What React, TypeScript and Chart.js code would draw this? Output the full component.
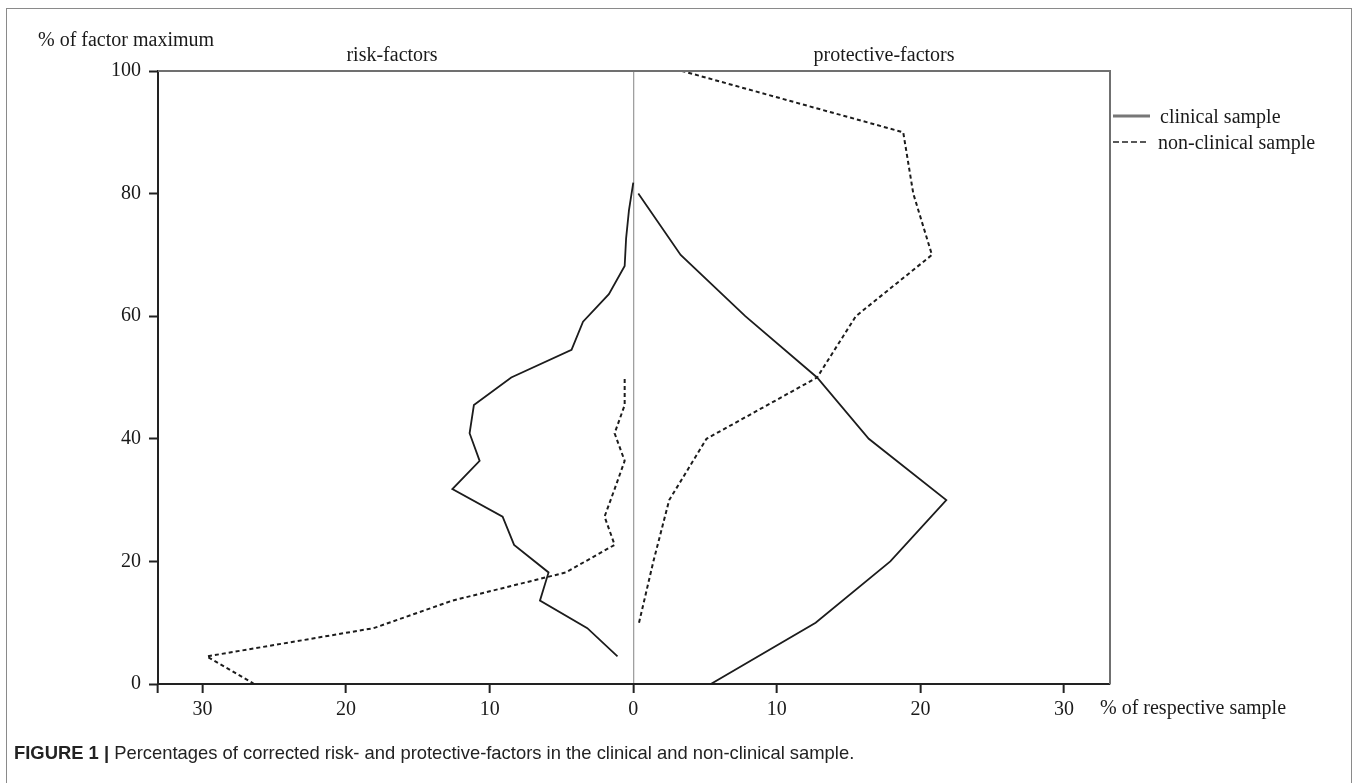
import React, { useEffect, useRef } from "react";
import { Chart, registerables } from "chart.js";

Chart.register(...registerables);

// y-levels (% of factor maximum) and x-values (% of respective sample)
const riskClinicalLevels = [4.5, 9.1, 13.6, 18.2, 22.7, 27.3, 31.8, 36.4, 40.9, 45.5, 50, 54.5, 59.1, 63.6, 68.2, 72.7, 77.3, 81.8];
const riskClinicalValues = [1.1, 3.2, 6.5, 5.9, 8.3, 9.1, 12.6, 10.7, 11.4, 11.1, 8.5, 4.3, 3.5, 1.7, 0.6, 0.5, 0.3, 0.0];

const riskNonClinicalLevels = [0, 4.5, 9.1, 13.6, 18.2, 22.7, 27.3, 31.8, 36.4, 40.9, 45.5, 50];
const riskNonClinicalValues = [26.4, 29.7, 18.1, 12.6, 4.7, 1.3, 2.0, 1.3, 0.6, 1.3, 0.6, 0.6];

const protClinicalLevels = [0, 10, 20, 30, 40, 50, 60, 70, 80];
const protClinicalValues = [5.4, 12.7, 17.9, 21.8, 16.4, 12.8, 7.8, 3.3, 0.35];

const protNonClinicalLevels = [10, 20, 30, 40, 50, 60, 70, 80, 90, 100];
const protNonClinicalValues = [0.4, 1.4, 2.5, 5.1, 12.8, 15.5, 20.8, 19.5, 18.8, 3.4];

const xTickValues = [-33.1, -30, -20, -10, 0, 10, 20, 30];
const xTickLabels = ["", "30", "20", "10", "0", "10", "20", "30"];
const yTickValues = [0, 20, 40, 60, 80, 100];

const SERIF = '"Liberation Serif", "Times New Roman", serif';
const SANS = '"Liberation Sans", Arial, sans-serif';

const frameBorder = {
  id: "frameBorder",
  afterDatasetsDraw(chart: any) {
    const { ctx, chartArea } = chart;
    ctx.save();
    ctx.strokeStyle = "#707070";
    ctx.lineWidth = 2;
    ctx.beginPath();
    ctx.moveTo(chartArea.left, chartArea.top);
    ctx.lineTo(chartArea.right, chartArea.top);
    ctx.lineTo(chartArea.right, chartArea.bottom);
    ctx.stroke();
    ctx.restore();
  },
};

export default function App() {
  const ref = useRef<HTMLCanvasElement>(null);
  useEffect(() => {
    document.body.style.margin = "0";
    const toPts = (levels: number[], vals: number[], sign: number) =>
      levels.map((y, i) => ({ x: sign * vals[i], y }));
    const solid = { borderColor: "#1c1c1c", borderWidth: 1.8, pointRadius: 0, showLine: true, fill: false, tension: 0 };
    const dotted = { ...solid, borderDash: [4, 3], borderWidth: 2 };
    const chart = new Chart(ref.current as HTMLCanvasElement, {
      type: "scatter",
      data: {
        datasets: [
          { label: "risk clinical", data: toPts(riskClinicalLevels, riskClinicalValues, -1), ...solid },
          { label: "risk non-clinical", data: toPts(riskNonClinicalLevels, riskNonClinicalValues, -1), ...dotted },
          { label: "protective clinical", data: toPts(protClinicalLevels, protClinicalValues, 1), ...solid },
          { label: "protective non-clinical", data: toPts(protNonClinicalLevels, protNonClinicalValues, 1), ...dotted },
        ] as any,
      },
      options: {
        responsive: false,
        animation: false,
        layout: { padding: { left: 0, top: 71, right: 247, bottom: 0 } },
        plugins: { legend: { display: false }, tooltip: { enabled: false } },
        scales: {
          x: {
            type: "linear",
            min: -33.1,
            max: 33.2,
            afterBuildTicks: (scale: any) => {
              scale.ticks = xTickValues.map((v) => ({ value: v }));
            },
            afterFit: (scale: any) => {
              scale.height = 99;
            },
            ticks: {
              autoSkip: false,
              maxRotation: 0,
              color: "#1a1a1a",
              padding: 5,
              font: { family: SERIF, size: 20 },
              callback: (_v: any, i: number) => xTickLabels[i],
            },
            grid: {
              drawOnChartArea: true,
              color: (c: any) => (c.tick && c.tick.value === 0 ? "#a0a0a0" : "rgba(0,0,0,0)"),
              lineWidth: 1.3,
              tickColor: "#222",
              tickWidth: 2,
              tickLength: 9,
            },
            border: { display: true, color: "#222", width: 2 },
          },
          y: {
            type: "linear",
            min: 0,
            max: 100,
            afterBuildTicks: (scale: any) => {
              scale.ticks = yTickValues.map((v) => ({ value: v }));
            },
            afterFit: (scale: any) => {
              scale.width = 158;
            },
            ticks: {
              color: "#1a1a1a",
              padding: 8,
              font: { family: SERIF, size: 20 },
            },
            grid: {
              drawOnChartArea: false,
              tickColor: "#222",
              tickWidth: 2,
              tickLength: 9,
            },
            border: { display: true, color: "#222", width: 2 },
          },
        },
      },
      plugins: [frameBorder],
    } as any);
    return () => chart.destroy();
  }, []);

  const txt = (extra: any) => ({
    position: "absolute" as const,
    fontFamily: SERIF,
    fontSize: 20,
    lineHeight: "20px",
    color: "#1a1a1a",
    whiteSpace: "nowrap" as const,
    ...extra,
  });

  return (
    <div style={{ position: "relative", width: 1357, height: 783, background: "#fff", overflow: "hidden" }}>
      <div style={{ position: "absolute", left: 6, top: 8, width: 1344, height: 800, border: "1.5px solid #8a8a8a" }} />
      <canvas ref={ref} width={1357} height={783} style={{ position: "absolute", left: 0, top: 0 }} />
      <div style={txt({ left: 38, top: 29 })}>% of factor maximum</div>
      <div style={txt({ left: 392, top: 44, transform: "translateX(-50%)" })}>risk-factors</div>
      <div style={txt({ left: 884, top: 44, transform: "translateX(-50%)" })}>protective-factors</div>
      <svg style={{ position: "absolute", left: 1112, top: 106 }} width={42} height={44}>
        <line x1={1} y1={10} x2={38} y2={10} stroke="#777" strokeWidth={3} />
        <line x1={1} y1={36} x2={36} y2={36} stroke="#222" strokeWidth={1.6} strokeDasharray="6 3" />
      </svg>
      <div style={txt({ left: 1160, top: 106 })}>clinical sample</div>
      <div style={txt({ left: 1158, top: 132 })}>non-clinical sample</div>
      <div style={txt({ left: 1100, top: 697 })}>% of respective sample</div>
      <div style={{ position: "absolute", left: 14, top: 743, fontFamily: SANS, fontSize: 18.4, lineHeight: "20px", color: "#222", whiteSpace: "nowrap" }}>
        <b>FIGURE 1 |</b> Percentages of corrected risk- and protective-factors in the clinical and non-clinical sample.
      </div>
    </div>
  );
}
